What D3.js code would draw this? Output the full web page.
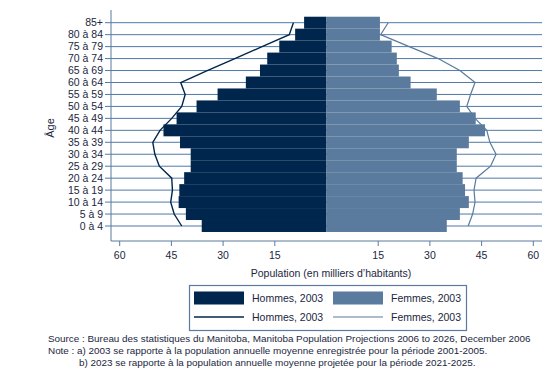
<!DOCTYPE html>
<html>
<head>
<meta charset="utf-8">
<script src="https://cdn.jsdelivr.net/npm/d3@7"></script>
<style>
  body { margin: 0; background: #fff; }
  svg { display: block; font-family: "Liberation Sans", Arial, sans-serif; }
</style>
</head>
<body>
<div id="chart"></div>
<script>
// Age groups, bottom to top
const ages = ["0 à 4", "5 à 9", "10 à 14", "15 à 19", "20 à 24", "25 à 29", "30 à 34", "35 à 39",
  "40 à 44", "45 à 49", "50 à 54", "55 à 59", "60 à 64", "65 à 69", "70 à 74", "75 à 79", "80 à 84", "85+"];

// Population in thousands
const hommes2003 = [36.2, 40.8, 42.9, 42.7, 41.3, 39.4, 39.4, 42.5, 47.3, 43.5, 37.7, 31.6, 23.4, 19.3, 17.2, 13.7, 9.1, 6.5];
const femmes2003 = [34.9, 38.7, 41.3, 40.2, 39.5, 37.8, 37.8, 41.3, 46.0, 43.3, 38.7, 32.0, 24.4, 21.0, 20.4, 18.9, 15.5, 15.5];
const hommes2023 = [42.0, 44.2, 45.2, 44.7, 44.9, 48.5, 49.8, 50.4, 48.3, 44.9, 42.0, 41.0, 42.3, 34.6, 26.6, 18.7, 10.8, 9.6];
const femmes2023 = [41.1, 42.4, 43.1, 42.8, 43.4, 47.6, 49.2, 47.4, 46.5, 43.1, 40.7, 41.8, 43.1, 38.7, 32.4, 24.0, 15.7, 17.9];

const xTicks = [15, 30, 45, 60];

const W = 560, H = 374;
const darkBlue = "#00264d", lightBlue = "#5a7b9d", gridBlue = "#4f79a8", textCol = "#1b2740";

const svg = d3.select("#chart").append("svg")
  .attr("width", W).attr("height", H);

const center = 326.5;
const plotLeft = 111, plotRight = 542, plotTop = 10, plotBottom = 241;

// Scales
const xL = d3.scaleLinear().domain([0, 60]).range([center, center - 206.8]);
const xR = d3.scaleLinear().domain([0, 60]).range([center, center + 206.8]);
const y = d3.scalePoint().domain(ages.slice().reverse()).range([22.7, 226]);
const bh = y.step();

// Gridlines + age ticks
svg.append("g").selectAll("line")
  .data(ages).join("line")
  .attr("x1", plotLeft - 6).attr("x2", plotRight)
  .attr("y1", d => y(d)).attr("y2", d => y(d))
  .attr("stroke", gridBlue).attr("stroke-width", 1);

svg.append("g").selectAll("text")
  .data(ages).join("text")
  .attr("x", plotLeft - 8).attr("y", d => y(d))
  .attr("dy", "0.35em").attr("text-anchor", "end")
  .attr("font-size", "10.5px").attr("fill", textCol)
  .text(d => d);

// Bars
svg.append("g").selectAll("rect")
  .data(ages).join("rect")
  .attr("x", (d, i) => xL(hommes2003[i]))
  .attr("y", d => y(d) - bh / 2)
  .attr("width", (d, i) => xL(0) - xL(hommes2003[i]))
  .attr("height", bh)
  .attr("fill", darkBlue);

svg.append("g").selectAll("rect")
  .data(ages).join("rect")
  .attr("x", xR(0))
  .attr("y", d => y(d) - bh / 2)
  .attr("width", (d, i) => xR(femmes2003[i]) - xR(0))
  .attr("height", bh)
  .attr("fill", lightBlue);

// 2023 lines
const lineL = d3.line().x(d => xL(d[1])).y(d => y(d[0]));
const lineR = d3.line().x(d => xR(d[1])).y(d => y(d[0]));

svg.append("path")
  .datum(ages.map((a, i) => [a, hommes2023[i]]))
  .attr("fill", "none").attr("stroke", darkBlue).attr("stroke-width", 1.4)
  .attr("d", lineL);

svg.append("path")
  .datum(ages.map((a, i) => [a, femmes2023[i]]))
  .attr("fill", "none").attr("stroke", lightBlue).attr("stroke-width", 1.2)
  .attr("d", lineR);

// Axes lines
svg.append("line")
  .attr("x1", plotLeft).attr("x2", plotLeft)
  .attr("y1", plotTop).attr("y2", plotBottom)
  .attr("stroke", lightBlue).attr("stroke-width", 1);
svg.append("line")
  .attr("x1", plotLeft).attr("x2", plotRight)
  .attr("y1", plotBottom).attr("y2", plotBottom)
  .attr("stroke", lightBlue).attr("stroke-width", 1);

// X ticks
const tickG = svg.append("g");
[xL, xR].forEach(sc => {
  xTicks.forEach(t => {
    tickG.append("line")
      .attr("x1", sc(t)).attr("x2", sc(t))
      .attr("y1", plotBottom).attr("y2", plotBottom + 5)
      .attr("stroke", lightBlue);
    tickG.append("text")
      .attr("x", sc(t)).attr("y", plotBottom + 18)
      .attr("text-anchor", "middle")
      .attr("font-size", "10.5px").attr("fill", textCol)
      .text(t);
  });
});

// Axis titles
svg.append("text")
  .attr("x", 331).attr("y", 277)
  .attr("text-anchor", "middle")
  .attr("font-size", "10.5px").attr("fill", textCol)
  .text("Population (en milliers d’habitants)");

svg.append("text")
  .attr("transform", "translate(54,128) rotate(-90)")
  .attr("text-anchor", "middle")
  .attr("font-size", "11px").attr("fill", textCol)
  .text("Âge");

// Legend
const lg = svg.append("g");
lg.append("rect")
  .attr("x", 189.5).attr("y", 285.5).attr("width", 277).attr("height", 45)
  .attr("fill", "#fff").attr("stroke", lightBlue).attr("stroke-width", 1.2);

const legendItems = [
  {type: "rect", color: darkBlue, label: "Hommes, 2003", x: 194, row: 0},
  {type: "rect", color: lightBlue, label: "Femmes, 2003", x: 333, row: 0},
  {type: "line", color: darkBlue, label: "Hommes, 2003", x: 194, row: 1},
  {type: "line", color: lightBlue, label: "Femmes, 2003", x: 333, row: 1}
];
legendItems.forEach(it => {
  const cy = 298 + it.row * 19;
  if (it.type === "rect") {
    lg.append("rect").attr("x", it.x).attr("y", cy - 6.5).attr("width", 50).attr("height", 13).attr("fill", it.color);
  } else {
    lg.append("line").attr("x1", it.x).attr("x2", it.x + 50).attr("y1", cy).attr("y2", cy)
      .attr("stroke", it.color).attr("stroke-width", it.color === darkBlue ? 1.4 : 1.2);
  }
  lg.append("text").attr("x", it.x + 58).attr("y", cy).attr("dy", "0.35em")
    .attr("font-size", "10.5px").attr("fill", textCol).text(it.label);
});

// Notes
const notes = [
  {x: 48, y: 342, t: "Source : Bureau des statistiques du Manitoba, Manitoba Population Projections 2006 to 2026, December 2006"},
  {x: 48, y: 354, t: "Note : a) 2003 se rapporte à la population annuelle moyenne enregistrée pour la période 2001-2005."},
  {x: 79, y: 366, t: "b) 2023 se rapporte à la population annuelle moyenne projetée pour la période 2021-2025."}
];
svg.append("g").selectAll("text")
  .data(notes).join("text")
  .attr("x", d => d.x).attr("y", d => d.y)
  .attr("font-size", "9.9px").attr("fill", textCol)
  .text(d => d.t);
</script>
</body>
</html>
